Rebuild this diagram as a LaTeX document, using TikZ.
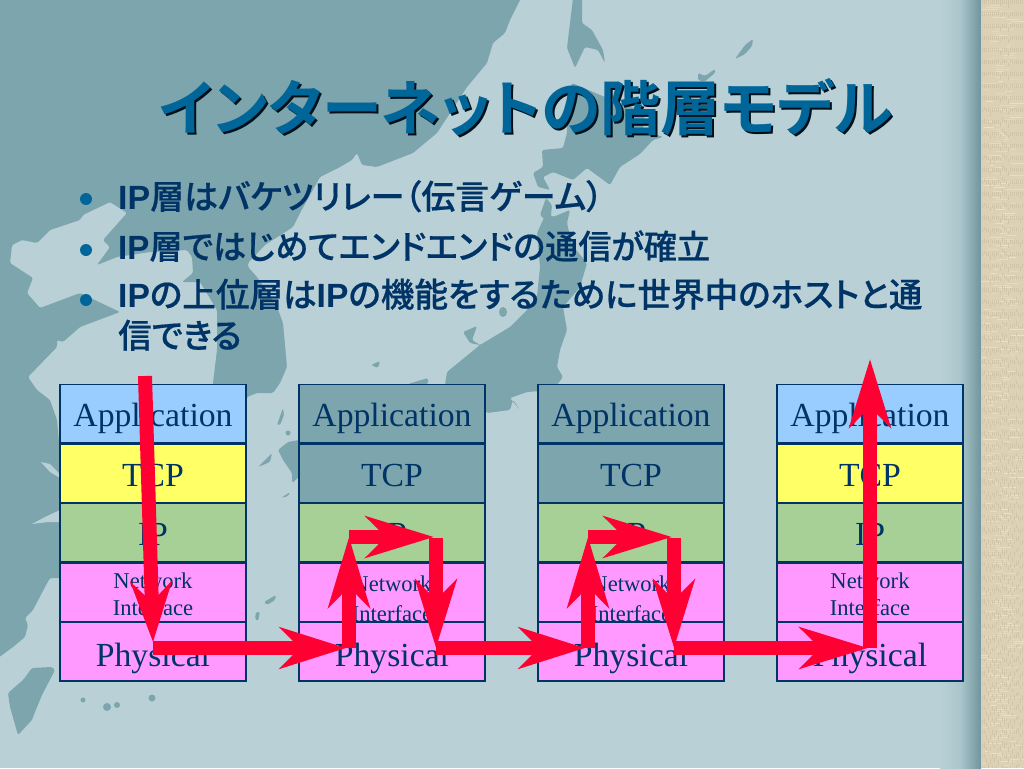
\documentclass[tikz,border=0pt]{standalone}
\usepackage{fontspec}
\usetikzlibrary{arrows.meta}
\setmainfont{Liberation Serif}
\newfontfamily\jpf[RawFeature=+palt,FakeBold=0.5]{Noto Sans CJK JP Medium}
\newfontfamily\jpt[RawFeature=+palt]{Noto Sans CJK JP Bold}
\newfontfamily\latf{Liberation Sans Bold}
\definecolor{seabg}{HTML}{B9D1D6}
\definecolor{land}{HTML}{7CA5AD}
\definecolor{edgeblue}{HTML}{003366}
\definecolor{titleblue}{HTML}{006699}
\definecolor{linen}{HTML}{DDD1B5}
\definecolor{redarrow}{HTML}{FF0033}
\definecolor{cellblue}{HTML}{99CCFF}
\definecolor{cellyellow}{HTML}{FFFF66}
\definecolor{cellgreen}{HTML}{A6D096}
\definecolor{cellpink}{HTML}{FF99FF}
\tikzset{
  landmass/.style={fill=land,draw=none,rounded corners=1.5pt},
  seainlet/.style={fill=seabg,draw=none},
  cellbox/.style={draw=edgeblue,line width=1.5pt,minimum width=186pt,minimum height=58.5pt,inner sep=0pt,text=edgeblue,font=\fontsize{33.7}{36}\selectfont,text height=27pt,text depth=1pt},
  netbox/.style={draw=edgeblue,line width=1.5pt,fill=cellpink,minimum width=186pt,minimum height=58.5pt,inner sep=0pt},
  nettext/.style={text=edgeblue,inner sep=0pt,align=center,font=\fontsize{22.6}{27}\selectfont},
  bluecell/.style={cellbox,fill=cellblue},
  yellowcell/.style={cellbox,fill=cellyellow},
  greencell/.style={cellbox,fill=cellgreen},
  pinkcell/.style={cellbox,fill=cellpink,text height=30pt,text depth=0pt},
  darkcell/.style={cellbox,fill=land},
  shaft/.style={draw=redarrow,line width=14pt},
  redtip/.style={shaft,-{Stealth[length=#1,width=41pt,inset=20pt,fill=redarrow]}},
  bul/.style={circle,fill=titleblue,minimum size=12pt,inner sep=0pt},
  btext/.style={anchor=base west,inner sep=0pt,text=edgeblue,font=\jpf\fontsize{33.6}{41}\selectfont},
  tit/.style={anchor=base west,inner sep=0pt,font=\jpt\fontsize{60}{60}\selectfont},
}
\begin{document}
\begin{tikzpicture}[x=1pt,y=-1pt]
\useasboundingbox (0,0) rectangle (1024,768);
\fill[seabg] (0,0) rectangle (1024,768);
% mainland
\path[landmass] (-2,-2) -- (521,-2) -- (510,20) -- (505,33) -- (493,43) -- (487,63) -- (467,87) -- (437,133) -- (413,153) -- (377,167) -- (362,165) -- (357,153) -- (352,160) -- (340,167) -- (320,177) -- (300,213) -- (293,227) -- (265,245) -- (248,263) -- (248,267) -- (257,277) -- (277,307) -- (283,323) -- (287,367) -- (280,383) -- (273,393) -- (257,393) -- (247,397) -- (240,420) -- (213,420) -- (213,383) -- (217,350) -- (217,310) -- (200,282) -- (182,282) -- (193,273) -- (192,257) -- (187,250) -- (150,252) -- (117,257) -- (97,265) -- (110,247) -- (103,240) -- (127,213) -- (110,202) -- (83,215) -- (80,220) -- (50,230) -- (37,243) -- (22,240) -- (12,245) -- (10,263) -- (33,278) -- (27,293) -- (40,308) -- (80,293) -- (120,312) -- (80,327) -- (63,342) -- (57,340) -- (57,347) -- (28,377) -- (37,390) -- (50,400) -- (57,420) -- (62,475) -- (62,578) -- (50,578) -- (45,587) -- (33,610) -- (25,618) -- (28,625) -- (25,637) -- (13,647) -- (-2,658) -- cycle;
\path[seainlet] (41,462) -- (50,464) -- (60,474) -- (60,478) -- (50,472) -- cycle;
\path[seainlet] (32,524) -- (45,517) -- (60,510) -- (60,522) -- (48,522) -- cycle;
% Japan
\path[landmass] (543,220) -- (547,212) -- (553,217) -- (570,210) -- (567,223) -- (572,245) -- (587,263) -- (580,287) -- (563,307) -- (567,330) -- (560,350) -- (557,367) -- (563,377) -- (553,390) -- (527,392) -- (510,398) -- (520,410) -- (513,400) -- (510,410) -- (487,413) -- (470,395) -- (445,385) -- (447,372) -- (480,345) -- (472,340) -- (477,326) -- (463,332) -- (470,343) -- (480,345) -- (510,327) -- (527,310) -- (537,297) -- (540,267) -- (537,233) -- cycle;
\path[landmass] (572,83) -- (600,95) -- (645,112) -- (643,130) -- (663,137) -- (653,140) -- (640,154) -- (620,167) -- (610,185) -- (587,168) -- (573,180) -- (553,172) -- (543,177) -- (550,190) -- (538,187) -- (533,173) -- (543,167) -- (542,150) -- (563,148) -- (567,133) -- (568,100) -- cycle;
\path[landmass] (573,-2) -- (582,-2) -- (582,23) -- (592,30) -- (603,50) -- (605,63) -- (598,50) -- (585,47) -- (575,68) -- (567,48) -- (570,23) -- cycle;
\path[landmass] (735,59) -- (745,45) -- (753,39) -- (752,46) -- (745,54) -- cycle;
\path[landmass] (698,73) -- (705,76) -- (715,69) -- (715,73) -- (704,82) -- (698,80) -- cycle;
\path[landmass] (550,225) -- (540,215) -- (546,198) -- (552,205) -- cycle;
\fill[land] (503,312) ellipse (4pt and 5pt);
% Taiwan and small islands
\path[landmass] (52,667) -- (55,670) -- (42,695) -- (35,712) -- (32,720) -- (18,735) -- (10,707) -- (8,693) -- (23,680) -- (32,668) -- cycle;
\fill[land] (83,700) circle (2.5pt) (107,707) circle (4pt) (117,705) circle (3pt) (152,698) circle (3.5pt);
\path[landmass] (278,450) -- (288,442) -- (299,440) -- (299,477) -- (292,483) -- (292,473) -- (283,460) -- cycle;
\path[landmass] (258,467) -- (272,453) -- (270,462) -- cycle;
\path[landmass] (277,425) -- (283,408) -- (284,415) -- (280,425) -- cycle;
\path[landmass] (281,498) -- (290,492) -- (288,496) -- cycle;
\path[landmass] (264,602) -- (276,595) -- (275,600) -- (267,605) -- cycle;
\path[landmass] (256,612) -- (260,612) -- (258,621) -- (255,619) -- cycle;
\path[landmass] (371,365) -- (380,361) -- (378,368) -- cycle;
\path[landmass] (408,384) -- (428,378) -- (428,384) -- cycle;
\fill[land] (288,433) circle (2.5pt);
% right band
\shade[left color=seabg,right color=seabg!75!land] (940,0) rectangle (960,768);
\shade[left color=seabg!75!land,right color=land!90!black] (960,0) rectangle (981,768);
\fill[linen] (981,0) rectangle (1024,768);
\pgfmathsetseed{7}
\foreach \yy in {1,3,...,767} {
  \pgfmathsetmacro{\shadeamt}{int(random(10,35))}
  \pgfmathsetmacro{\xa}{981+random(0,30)}
  \pgfmathsetmacro{\xb}{\xa+random(4,18)}
  \draw[line width=0.5pt,white!\shadeamt!linen] (\xa,\yy) -- (\xb,\yy);
}
\foreach \xx in {982,984,...,1023} {
  \pgfmathsetmacro{\ya}{random(0,700)}
  \draw[line width=0.4pt,black!6!linen,dash pattern=on 5pt off 7pt on 3pt off 9pt] (\xx,\ya) -- (\xx,768);
  \draw[line width=0.4pt,black!6!linen,dash pattern=on 4pt off 8pt] (\xx,0) -- (\xx,\ya);
}
% title
\node[tit,text=black!85!titleblue] (titleshadow) at (161.5,132.5) {インターネットの階層モデル};
\node[tit,text=titleblue] (title) at (159.5,130.5) {インターネットの階層モデル};
% bullets
\node[bul] (b1) at (86,199) {};
\node[bul] (b2) at (86,250) {};
\node[bul] (b3) at (86,300) {};
\node[btext,xscale=1.01,transform shape] (t1) at (118,209) {{\latf IP}層はバケツリレー（伝言ゲーム）};
\node[btext,xscale=.985,transform shape] (t2) at (118,259) {{\latf IP}層ではじめてエンドエンドの通信が確立};
\node[btext] (t3) at (118,307) {{\latf IP}の上位層は{\latf IP}の機能をするために世界中のホストと通};
\node[btext] (t4) at (118,348) {信できる};
% stacks
\node[bluecell] (a1) at (153,413.5) {Application};
\node[yellowcell] (c1) at (153,473) {TCP};
\node[greencell] (i1) at (153,532.5) {IP};
\node[netbox] (n1) at (153,592) {};
\node[nettext,yshift=-2pt] (m1) at (153,592) {Network\\Interface};
\node[pinkcell] (p1) at (153,651.5) {Physical};
\node[darkcell] (a2) at (392,413.5) {Application};
\node[darkcell] (c2) at (392,473) {TCP};
\node[greencell] (i2) at (392,532.5) {IP};
\node[netbox] (n2) at (392,592) {};
\node[nettext,yshift=-7pt] (m2) at (392,592) {Network\\[3pt]Interface};
\node[pinkcell] (p2) at (392,651.5) {Physical};
\node[darkcell] (a3) at (631,413.5) {Application};
\node[darkcell] (c3) at (631,473) {TCP};
\node[greencell] (i3) at (631,532.5) {IP};
\node[netbox] (n3) at (631,592) {};
\node[nettext,yshift=-7pt] (m3) at (631,592) {Network\\[3pt]Interface};
\node[pinkcell] (p3) at (631,651.5) {Physical};
\node[bluecell] (a4) at (870,413.5) {Application};
\node[yellowcell] (c4) at (870,473) {TCP};
\node[greencell] (i4) at (870,532.5) {IP};
\node[netbox] (n4) at (870,592) {};
\node[nettext,yshift=-2pt] (m4) at (870,592) {Network\\Interface};
\node[pinkcell] (p4) at (870,651.5) {Physical};
% route
\coordinate (s0) at (145,376);
\coordinate (s1) at (153,642);
\coordinate (s2) at (153,648);
\coordinate (s3) at (346,648);
\coordinate (s4) at (349,648);
\coordinate (s5) at (349,537);
\coordinate (s6) at (349,537);
\coordinate (s7) at (434,537);
\coordinate (s8) at (436,538);
\coordinate (s9) at (436,648);
\coordinate (s10) at (436,648);
\coordinate (s11) at (585,648);
\coordinate (s12) at (588,648);
\coordinate (s13) at (588,537);
\coordinate (s14) at (588,537);
\coordinate (s15) at (672,537);
\coordinate (s16) at (674,538);
\coordinate (s17) at (674,648);
\coordinate (s18) at (674,648);
\coordinate (s19) at (868,648);
\coordinate (s20) at (870,648);
\coordinate (s21) at (870,359);
\draw[redtip=60pt] (s0) -- (s1);
\draw[redtip=66pt] (s2) -- (s3);
\draw[redtip=70pt] (s4) -- (s5);
\draw[redtip=68pt] (s6) -- (s7);
\draw[redtip=68pt] (s8) -- (s9);
\draw[redtip=66pt] (s10) -- (s11);
\draw[redtip=70pt] (s12) -- (s13);
\draw[redtip=68pt] (s14) -- (s15);
\draw[redtip=68pt] (s16) -- (s17);
\draw[redtip=68pt] (s18) -- (s19);
\draw[redtip=68pt] (s20) -- (s21);
\end{tikzpicture}
\end{document}
